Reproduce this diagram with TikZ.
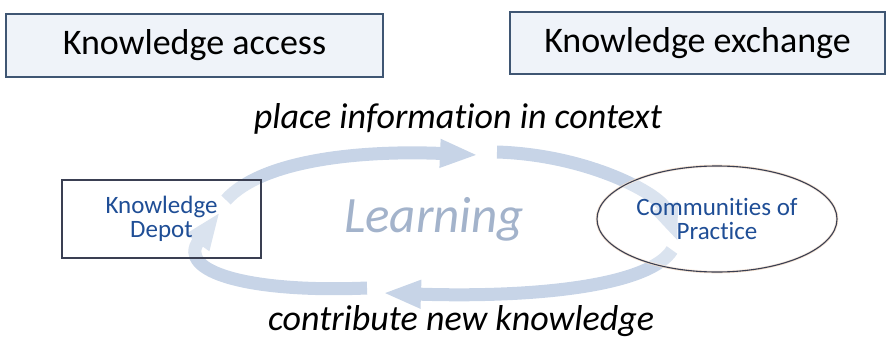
\documentclass[tikz,border=0pt]{standalone}
\usepackage{fontspec}
\setmainfont{Carlito}[Ligatures=NoCommon]
\usetikzlibrary{arrows.meta,shapes.geometric}
\definecolor{bandc}{HTML}{C7D4E7}
\definecolor{learnc}{HTML}{A3B3CB}
\definecolor{dblue}{HTML}{1F4E96}
\definecolor{topfill}{HTML}{EFF3F9}
\definecolor{topdraw}{HTML}{3F5673}
\definecolor{glowc}{HTML}{F1DDCB}
\definecolor{darkb}{HTML}{3A3F52}
\begin{document}
\begin{tikzpicture}[x=1pt,y=-1pt,
  topbox/.style={draw=topdraw, line width=1.1pt, fill=topfill, inner sep=0pt,
    font=\fontsize{36}{40}\selectfont},
  cyclearrow/.style={draw=bandc, line width=13pt, -{Triangle[length=38pt,width=26pt]}},
  itlabel/.style={font=\fontsize{36}{40}\selectfont\itshape, inner sep=0pt, anchor=base},
  bluetext/.style={text=dblue, align=center, font=\fontsize{25}{24}\selectfont},
  glow/.style={preaction={draw=glowc, line width=2.6pt}}
]
\useasboundingbox (0,0) rectangle (894,340);

% cycle arrows
\coordinate (a1s) at (226,200);
\coordinate (a1e) at (478,155);
\coordinate (a2s) at (497,152);
\coordinate (a2e) at (678,242);
\coordinate (a3s) at (672,250);
\coordinate (a3e) at (383,293);
\coordinate (a4s) at (367,288);
\coordinate (a4e) at (220,212);
\draw[cyclearrow] (a1s) .. controls (262,160) and (360,150) .. (a1e);
\draw[cyclearrow] (a2s) .. controls (590,155) and (660,195) .. (a2e);
\draw[cyclearrow] (a3s) .. controls (650,285) and (540,298) .. (a3e);
\draw[cyclearrow] (a4s) .. controls (250,293) and (176,272) .. (a4e);

% top boxes
\node[topbox, minimum width=377pt, minimum height=63pt] (access) at (194.5,45.5) {Knowledge access};
\node[topbox, minimum width=375pt, minimum height=62pt] (exchange) at (697.5,43) {Knowledge exchange};

% italic labels
\node[itlabel] (place) at (458,128) {place information in context};
\node[itlabel] (contrib) at (461,330) {contribute new knowledge};
\node[itlabel, text=learnc, font=\fontsize{51}{55}\selectfont\itshape] (learning) at (434,232) {Learning};

% depot box and communities ellipse
\node[glow, draw=darkb, line width=1.1pt, fill=white, fill opacity=0.35, text opacity=1,
  minimum width=199pt, minimum height=78pt, inner sep=0pt, bluetext] (depot) at (161.5,219) {Knowledge\\Depot};
\node[glow, ellipse, draw=darkb, line width=1.1pt, fill=white, fill opacity=0.35, text opacity=1,
  minimum width=240pt, minimum height=106pt, inner sep=0pt, bluetext] (cop) at (717,219) {Communities of\\Practice};
\end{tikzpicture}
\end{document}
